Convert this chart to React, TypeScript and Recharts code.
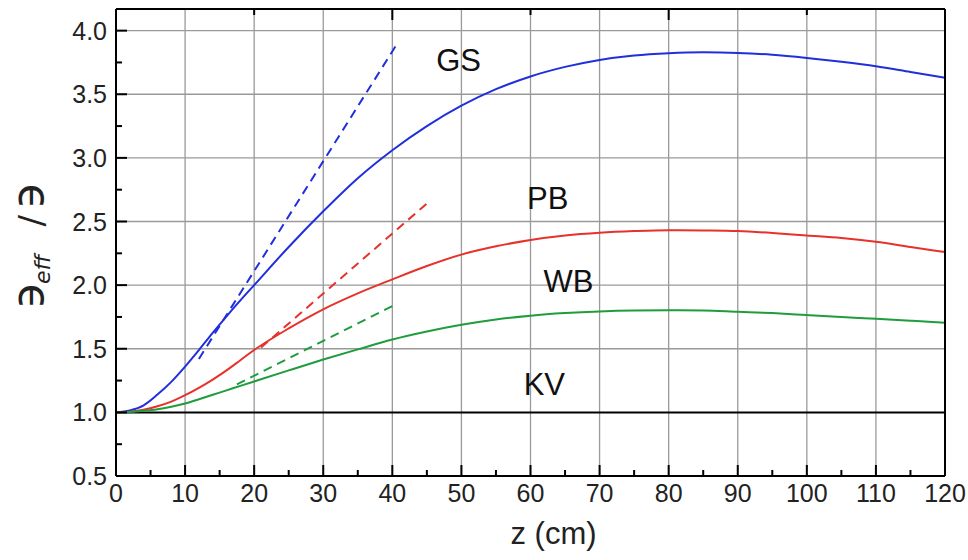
import { LineChart, Line, XAxis, YAxis, ReferenceLine, ReferenceDot } from 'recharts';

const zValues = [0, 2, 4, 6, 8, 10, 12, 14, 16, 18, 20, 25, 30, 35, 40, 45, 50, 55, 60, 65, 70, 75, 80, 85, 90, 95, 100, 105, 110, 115, 120];
const gsValues = [1.0, 1.015, 1.055, 1.14, 1.24, 1.36, 1.49, 1.625, 1.755, 1.88, 2.0, 2.3, 2.58, 2.84, 3.06, 3.25, 3.41, 3.54, 3.64, 3.715, 3.77, 3.805, 3.823, 3.83, 3.825, 3.81, 3.785, 3.755, 3.72, 3.675, 3.63];
const pbValues = [1.0, 1.005, 1.02, 1.048, 1.085, 1.135, 1.193, 1.258, 1.33, 1.41, 1.49, 1.66, 1.81, 1.935, 2.045, 2.15, 2.24, 2.305, 2.355, 2.39, 2.412, 2.425, 2.432, 2.43, 2.425, 2.41, 2.39, 2.37, 2.34, 2.3, 2.26];
const wbValues = [1.0, 1.003, 1.012, 1.025, 1.045, 1.07, 1.103, 1.138, 1.173, 1.208, 1.243, 1.33, 1.415, 1.495, 1.572, 1.635, 1.688, 1.73, 1.76, 1.78, 1.793, 1.8, 1.802, 1.8, 1.79, 1.78, 1.765, 1.75, 1.735, 1.72, 1.705];

// tangent (dashed) lines: start / end points
const gsTangent = [{ z: 12, v: 1.42 }, { z: 40.5, v: 3.88 }];
const pbTangent = [{ z: 21, v: 1.51 }, { z: 45.5, v: 2.665 }];
const wbTangent = [{ z: 17.5, v: 1.22 }, { z: 40.4, v: 1.847 }];

const xMajor = [0, 10, 20, 30, 40, 50, 60, 70, 80, 90, 100, 110, 120];
const xMinor = [5, 15, 25, 35, 45, 55, 65, 75, 85, 95, 105, 115];
const yMajor = [0.5, 1.0, 1.5, 2.0, 2.5, 3.0, 3.5, 4.0];
const yMinor = [0.75, 1.25, 1.75, 2.25, 2.75, 3.25, 3.75];

const curveLabels = [
  { name: 'GS', z: 49.6, v: 3.77 },
  { name: 'PB', z: 62.5, v: 2.685 },
  { name: 'WB', z: 65.5, v: 2.036 },
  { name: 'KV', z: 62.0, v: 1.22 },
];

const data = zValues.map((z, i) => ({ z, gs: gsValues[i], pb: pbValues[i], wb: wbValues[i] }));
const xTicks = [...xMajor, ...xMinor].sort((a, b) => a - b);
const yTicks = [...yMajor, ...yMinor].sort((a, b) => a - b);

const BLUE = '#1f2fdc';
const RED = '#e6322a';
const GREEN = '#1f9d3c';
const FONT = 'Liberation Sans, Arial, Helvetica, sans-serif';

const isMajorX = (v: number) => xMajor.includes(v);
const isMajorY = (v: number) => yMajor.includes(v);

const LeftTick = ({ x, y, payload }: any) => {
  const major = isMajorY(payload.value);
  return (
    <g>
      <line x1={x} y1={y} x2={x + (major ? 11 : 6)} y2={y} stroke="#000" strokeWidth={2} />
      {major && (
        <text x={x - 9} y={y + 9} textAnchor="end" fontSize={25} fill="#222" fontFamily={FONT}>
          {payload.value.toFixed(1)}
        </text>
      )}
    </g>
  );
};

const RightTick = ({ x, y, payload }: any) => {
  const major = isMajorY(payload.value);
  return <line x1={x} y1={y} x2={x - (major ? 11 : 6)} y2={y} stroke="#000" strokeWidth={2} />;
};

const BottomTick = ({ x, y, payload }: any) => {
  const major = isMajorX(payload.value);
  return (
    <g>
      <line x1={x} y1={y} x2={x} y2={y - (major ? 11 : 6)} stroke="#000" strokeWidth={2} />
      {major && (
        <text x={x} y={y + 26} textAnchor="middle" fontSize={25} fill="#222" fontFamily={FONT}>
          {payload.value}
        </text>
      )}
    </g>
  );
};

const TopTick = ({ x, y, payload }: any) => {
  const major = isMajorX(payload.value);
  return <line x1={x} y1={y} x2={x} y2={y + (major ? 11 : 6)} stroke="#000" strokeWidth={2} />;
};

const YLabel = ({ viewBox }: any) => {
  const x0 = viewBox.x + 43;
  const y0 = 309;
  return (
    <text x={x0} y={y0} transform={`rotate(-90 ${x0} ${y0})`} fill="#222" fontFamily="DejaVu Sans, sans-serif">
      <tspan fontSize={44}>϶</tspan>
      <tspan fontSize={22} fontStyle="italic" dy={7} dx={-2}>eff</tspan>
      <tspan fontSize={34} dy={-7} dx={28}>/</tspan>
      <tspan fontSize={44} dx={6}>϶</tspan>
    </text>
  );
};

export default function App() {
  return (
    <div style={{ position: 'absolute', left: 0, top: 0, background: '#fff' }}>
      <LineChart width={968} height={560} data={data} margin={{ top: 0, right: 0, bottom: 0, left: 0 }}>
        <XAxis
          dataKey="z"
          type="number"
          domain={[0, 120]}
          ticks={xTicks}
          interval={0}
          height={84}
          tickSize={0}
          tickMargin={0}
          tickLine={false}
          tick={<BottomTick />}
          axisLine={{ stroke: '#000', strokeWidth: 2 }}
          label={{ value: 'z (cm)', position: 'insideBottom', offset: 16, dx: 23, fontSize: 31, fill: '#222', fontFamily: FONT }}
        />
        <XAxis
          xAxisId="top"
          orientation="top"
          type="number"
          domain={[0, 120]}
          ticks={xTicks}
          interval={0}
          height={9}
          tickSize={0}
          tickMargin={0}
          tickLine={false}
          tick={<TopTick />}
          axisLine={{ stroke: '#000', strokeWidth: 2 }}
        />
        <YAxis
          type="number"
          domain={[0.5, 4.17]}
          ticks={yTicks}
          interval={0}
          width={116}
          tickSize={0}
          tickMargin={0}
          tickLine={false}
          tick={<LeftTick />}
          axisLine={{ stroke: '#000', strokeWidth: 2 }}
          label={<YLabel />}
        />
        <YAxis
          yAxisId="right"
          orientation="right"
          type="number"
          domain={[0.5, 4.17]}
          ticks={yTicks}
          interval={0}
          width={23}
          tickSize={0}
          tickMargin={0}
          tickLine={false}
          tick={<RightTick />}
          axisLine={{ stroke: '#000', strokeWidth: 2 }}
        />
        {xMajor.slice(1, -1).map((v) => (
          <ReferenceLine key={'gx' + v} x={v} stroke="#9a9a9a" strokeWidth={1.3} />
        ))}
        {yMajor.slice(1).map((v) => (
          <ReferenceLine key={'gy' + v} y={v} stroke={v === 1 ? '#000' : '#9a9a9a'} strokeWidth={v === 1 ? 2 : 1.3} />
        ))}
        <Line dataKey="gs" type="monotone" stroke={BLUE} strokeWidth={2} dot={false} isAnimationActive={false} />
        <Line dataKey="pb" type="monotone" stroke={RED} strokeWidth={2} dot={false} isAnimationActive={false} />
        <Line dataKey="wb" type="monotone" stroke={GREEN} strokeWidth={2} dot={false} isAnimationActive={false} />
        <Line data={gsTangent} dataKey="v" type="linear" stroke={BLUE} strokeWidth={2} strokeDasharray="9 6" dot={false} isAnimationActive={false} />
        <Line data={pbTangent} dataKey="v" type="linear" stroke={RED} strokeWidth={2} strokeDasharray="9 6" dot={false} isAnimationActive={false} />
        <Line data={wbTangent} dataKey="v" type="linear" stroke={GREEN} strokeWidth={2} strokeDasharray="9 6" dot={false} isAnimationActive={false} />
        {curveLabels.map((l) => (
          <ReferenceDot
            key={l.name}
            x={l.z}
            y={l.v}
            r={0}
            stroke="none"
            fill="none"
            label={{ value: l.name, position: 'center', fontSize: 31, fill: '#111', fontFamily: FONT }}
          />
        ))}
      </LineChart>
    </div>
  );
}
